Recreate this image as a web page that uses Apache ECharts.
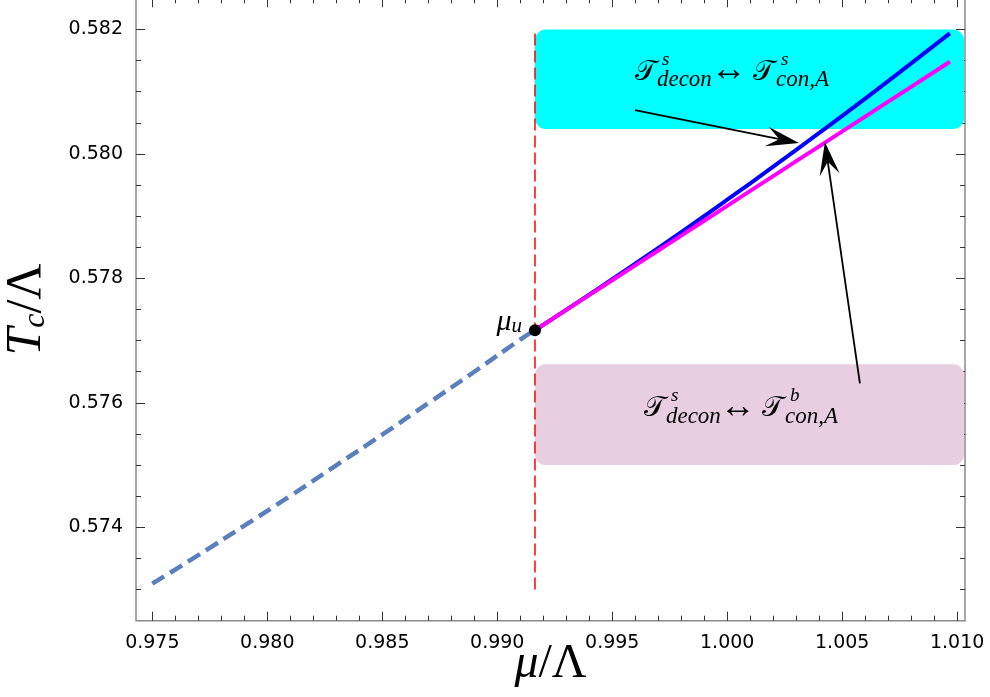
<!DOCTYPE html>
<html><head><meta charset="utf-8">
<script src="https://cdn.jsdelivr.net/npm/echarts@6/dist/echarts.min.js"></script>
<style>html,body{margin:0;padding:0;background:#fff}#c{width:990px;height:697px}</style>
</head><body><div id="c"></div>
<script>
// ---- data ----
const dashedX = [0.975, 0.977, 0.979, 0.981, 0.983, 0.985, 0.987, 0.989, 0.991, 0.99164];
const dashedY = [0.573095, 0.573553, 0.574027, 0.574505, 0.574997, 0.575489, 0.575995, 0.576500, 0.577016, 0.577167];
const branchX = [0.99164, 0.994, 0.996, 0.998, 1.000, 1.002, 1.004, 1.006, 1.008, 1.00968];
const blueY = [0.577167, 0.577739, 0.578236, 0.578744, 0.579264, 0.579795, 0.580337, 0.580889, 0.581454, 0.581936];
const magentaY = [0.577167, 0.577731, 0.578209, 0.578687, 0.579166, 0.579644, 0.580122, 0.580600, 0.581078, 0.581480];
const muU = [0.99164, 0.577167];
const vLineY = [0.573, 0.582];
const cyanBox = [[0.99164, 0.5804], [1.0103, 0.582]];
const pinkBox = [[0.99164, 0.575], [1.0103, 0.57662]];
const cyanArrow = [[0.995987, 0.580704], [1.003117, 0.580174]];
const pinkArrow = [[1.005770, 0.576315], [1.004248, 0.580190]];
const cyanText = [1.000335, 0.581154];
const pinkText = [1.000726, 0.575752];
const cyanLabel = ['s', 'con,A'];
const pinkLabel = ['b', 'con,A'];
// axes
const XMIN = 0.97429, XMAX = 1.01034, YMIN = 0.5725, YMAX = 0.5825;
const xMajor = [0.975, 1.010, 0.005], xMinor = [0.975, 1.010, 0.001];
const yMajor = [0.574, 0.582, 0.002], yMinor = [0.573, 0.582, 0.0005];

// ---- layout ----
const box = {l: 136, r: 965, t: -1.7, b: 620.7};
function sub(x0, x1, y0, y1) {
  const sx = (box.r - box.l) / (XMAX - XMIN), sy = (box.b - box.t) / (YMAX - YMIN);
  const l = box.l + (x0 - XMIN) * sx, r = box.l + (x1 - XMIN) * sx;
  const t = box.b - (y1 - YMIN) * sy, b = box.b - (y0 - YMIN) * sy;
  return {left: l, top: t, width: r - l, height: b - t, outerBoundsMode: 'none', containLabel: false};
}
const serif = "'Liberation Serif','DejaVu Serif',serif";
const sans = "'DejaVu Sans',sans-serif";
const tickCol = '#333';
const hiddenAxis = (g, mn, mx) => ({gridIndex: g, type: 'value', min: mn, max: mx, show: false});
const tickAxis = (g, pos, r, len, labels) => ({
  gridIndex: g, type: 'value', position: pos, min: r[0], max: r[1], interval: r[2],
  axisLine: {show: false}, splitLine: {show: false},
  axisTick: {show: true, inside: true, length: len, lineStyle: {color: tickCol, width: 1}},
  axisLabel: labels ? {show: true, inside: false, margin: 13, color: '#000', fontFamily: sans, fontSize: 19,
    formatter: v => v.toFixed(3)} : {show: false}
});

const chart = echarts.init(document.getElementById('c'));
const option = {
  animation: false,
  backgroundColor: '#fff',
  grid: [
    Object.assign(sub(XMIN, XMAX, YMIN, YMAX), {show: true, borderColor: '#8a8a8a', borderWidth: 1.5, backgroundColor: 'transparent'}),
    sub(xMajor[0], xMajor[1], YMIN, YMAX),
    sub(XMIN, XMAX, yMinor[0], yMinor[1]),
    sub(XMIN, XMAX, yMajor[0], yMajor[1])
  ],
  xAxis: [
    {gridIndex: 0, type: 'value', min: XMIN, max: XMAX, axisLine: {show: false}, axisTick: {show: false},
     axisLabel: {show: false}, splitLine: {show: false},
     name: '{m|μ}{n|/Λ}', nameLocation: 'middle', nameGap: 20,
     nameTextStyle: {rich: {m: {fontFamily: serif, fontStyle: 'italic', fontSize: 48, color: '#000'},
                            n: {fontFamily: serif, fontSize: 48, color: '#000'}}}},
    tickAxis(1, 'bottom', xMajor, 9, true),
    tickAxis(1, 'bottom', xMinor, 5, false),
    tickAxis(1, 'top', xMajor, 9, false),
    tickAxis(1, 'top', xMinor, 5, false),
    hiddenAxis(2, XMIN, XMAX),
    hiddenAxis(3, XMIN, XMAX)
  ],
  yAxis: [
    {gridIndex: 0, type: 'value', min: YMIN, max: YMAX, axisLine: {show: false}, axisTick: {show: false},
     axisLabel: {show: false}, splitLine: {show: false},
     name: '{t|T}{c|c}{n|/Λ}', nameLocation: 'middle', nameRotate: 90, nameGap: 84,
     nameTextStyle: {rich: {t: {fontFamily: serif, fontStyle: 'italic', fontSize: 50, color: '#000'},
                            c: {fontFamily: serif, fontStyle: 'italic', fontSize: 32, color: '#000', verticalAlign: 'bottom', lineHeight: 14},
                            n: {fontFamily: serif, fontSize: 50, color: '#000'}}}},
    hiddenAxis(1, YMIN, YMAX),
    tickAxis(2, 'left', yMinor, 5, false),
    tickAxis(2, 'right', yMinor, 5, false),
    tickAxis(3, 'left', yMajor, 9, true),
    tickAxis(3, 'right', yMajor, 9, false)
  ],
  series: [
    {type: 'line', name: 'vline', xAxisIndex: 0, yAxisIndex: 0, z: 2, showSymbol: false, silent: true,
     data: vLineY.map(y => [muU[0], y]), lineStyle: {color: '#ff0000', width: 1.5, type: [12, 5]}},
    {type: 'line', name: 'dashed', xAxisIndex: 0, yAxisIndex: 0, z: 3, showSymbol: false, smooth: true,
     data: dashedX.map((x, i) => [x, dashedY[i]]), lineStyle: {color: '#5a7fbd', width: 4.5, type: [14, 7], cap: 'butt'}},
    {type: 'line', name: 'blue', xAxisIndex: 0, yAxisIndex: 0, z: 4, showSymbol: false, smooth: true,
     data: branchX.map((x, i) => [x, blueY[i]]), lineStyle: {color: '#0000ff', width: 4}},
    {type: 'line', name: 'magenta', xAxisIndex: 0, yAxisIndex: 0, z: 5, showSymbol: false, smooth: true,
     data: branchX.map((x, i) => [x, magentaY[i]]), lineStyle: {color: '#ff00ff', width: 4}},
    {type: 'scatter', name: 'mu_u', xAxisIndex: 0, yAxisIndex: 0, z: 6, symbolSize: 12,
     itemStyle: {color: '#000', opacity: 1}, data: [muU],
     label: {show: true, position: 'left', distance: 7, offset: [0, -8], formatter: '{m|μ}{u|u}',
             rich: {m: {fontFamily: serif, fontStyle: 'italic', fontSize: 30, color: '#000'},
                    u: {fontFamily: serif, fontStyle: 'italic', fontSize: 21, color: '#000', verticalAlign: 'bottom', lineHeight: 12}}}}
  ]
};
chart.setOption(option);

// ---- annotations placed in data coordinates ----
const px = p => chart.convertToPixel({xAxisIndex: 0, yAxisIndex: 0}, p);
function rect(b, color) {
  const a = px(b[0]), c = px(b[1]);
  return {type: 'rect', z: 1, silent: true,
    shape: {x: a[0], y: c[1], width: c[0] - a[0], height: a[1] - c[1], r: 11},
    style: {fill: color}};
}
function arrow(seg) {
  const p0 = px(seg[0]), p1 = px(seg[1]);
  const dx = p1[0] - p0[0], dy = p1[1] - p0[1], len = Math.hypot(dx, dy);
  const ux = dx / len, uy = dy / len, nx = -uy, ny = ux, L = 33, W = 10;
  const bx = p1[0] - ux * L, by = p1[1] - uy * L;
  const notch = [p1[0] - ux * L * 0.6, p1[1] - uy * L * 0.6];
  return [
    {type: 'line', z: 10, silent: true, shape: {x1: p0[0], y1: p0[1], x2: notch[0], y2: notch[1]},
     style: {stroke: '#000', lineWidth: 1.8}},
    {type: 'polygon', z: 10, silent: true,
     shape: {points: [p1, [bx + nx * W, by + ny * W], notch, [bx - nx * W, by - ny * W]]},
     style: {fill: '#000'}}
  ];
}
function piece(x, y, text, size, italic, family) {
  return {type: 'text', z: 10, silent: true,
    style: {x: x, y: y - 0.34 * size, text: text, fill: '#000',
      font: (italic ? 'italic ' : '') + size + 'px ' + (family || serif),
      align: 'left', verticalAlign: 'middle', textAlign: 'left', textVerticalAlign: 'middle'}};
}
function formula(anchor, lab) {
  const a = px(anchor), x = a[0], y = a[1];
  const cal = "'DejaVu Serif','DejaVu Sans','Noto Sans',serif";
  return [
    piece(x - 100, y, '\u{1D4AF}', 28, false, cal),
    piece(x - 73, y - 16, 's', 19, true),
    piece(x - 78, y + 6, 'decon', 23, true),
    piece(x - 24, y + 1, '\u2194', 36, false, serif),
    piece(x + 18, y, '\u{1D4AF}', 28, false, cal),
    piece(x + 46, y - 16, lab[0], 19, true),
    piece(x + 41, y + 6, lab[1], 23, true)
  ];
}
chart.setOption({graphic: {elements: [
  rect(cyanBox, '#00ffff'),
  rect(pinkBox, '#e7cee1'),
  ...arrow(cyanArrow),
  ...arrow(pinkArrow),
  ...formula(cyanText, cyanLabel),
  ...formula(pinkText, pinkLabel)
]}});
</script></body></html>
